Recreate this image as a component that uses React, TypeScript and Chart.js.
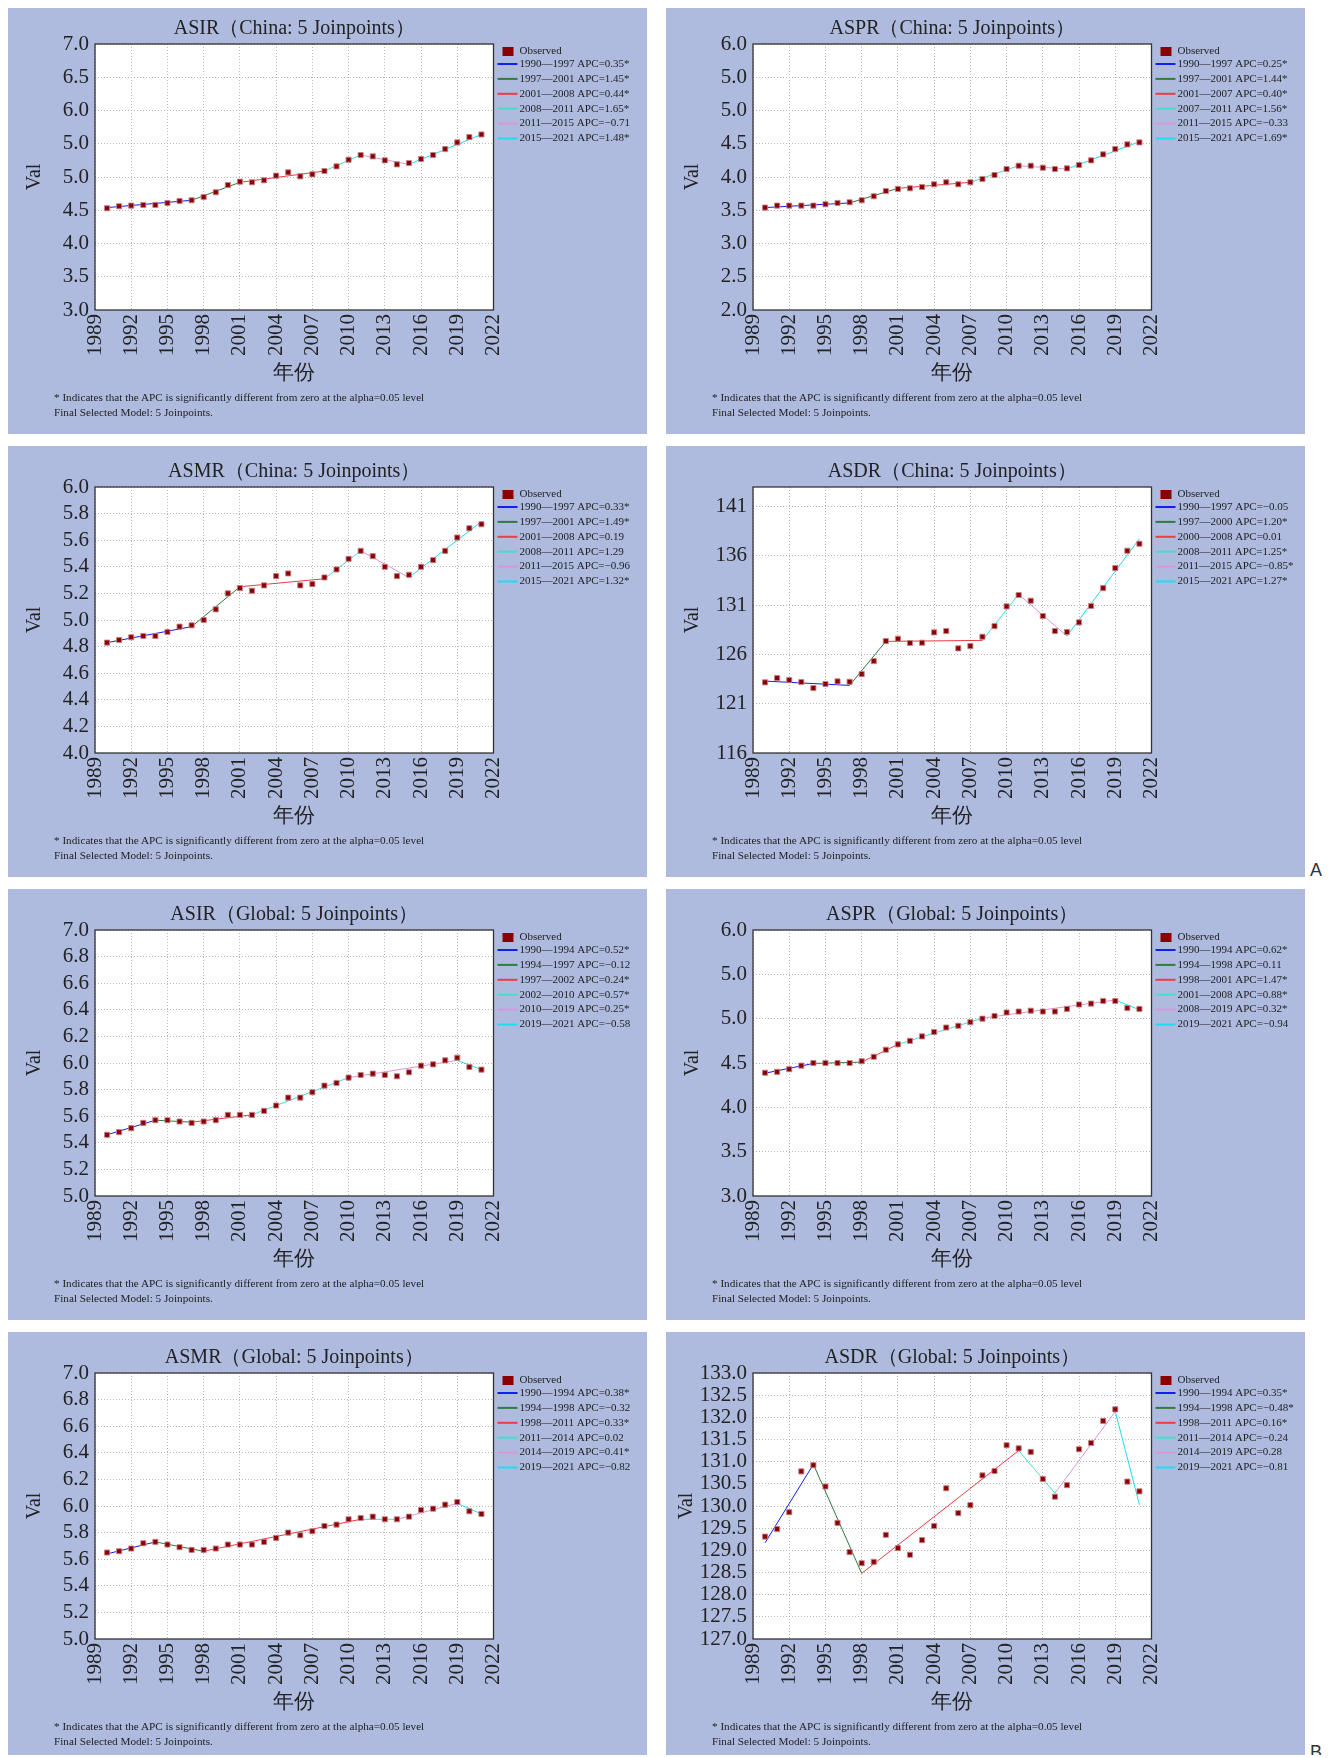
import React, { useEffect, useRef } from 'react';
import { Chart, registerables } from 'chart.js';

Chart.register(...registerables);

// ---------- shared axis data ----------
const YEARS = [
  1990, 1991, 1992, 1993, 1994, 1995, 1996, 1997, 1998, 1999, 2000, 2001, 2002, 2003, 2004, 2005,
  2006, 2007, 2008, 2009, 2010, 2011, 2012, 2013, 2014, 2015, 2016, 2017, 2018, 2019, 2020, 2021,
];
const X_TICKS = [1989, 1992, 1995, 1998, 2001, 2004, 2007, 2010, 2013, 2016, 2019, 2022];

const FOOTNOTE_1 = '* Indicates that the APC is significantly different from zero at the alpha=0.05 level';
const FOOTNOTE_2 = 'Final Selected Model: 5 Joinpoints.';

// ---------- ASIR China ----------
const ASIR_CHINA_OBS = [4.53, 4.56, 4.57, 4.58, 4.58, 4.61, 4.64, 4.65, 4.70, 4.77, 4.88, 4.93, 4.92, 4.95, 5.02, 5.07, 5.01, 5.04, 5.09, 5.16, 5.26, 5.33, 5.31, 5.25, 5.19, 5.21, 5.27, 5.33, 5.42, 5.52, 5.60, 5.64];
const ASIR_CHINA_JOIN_YEARS = [1990, 1997, 2001, 2008, 2011, 2015, 2021];
const ASIR_CHINA_JOIN_FIT = [4.54, 4.65, 4.92, 5.09, 5.33, 5.19, 5.64];
const ASIR_CHINA_APC = ['1990—1997 APC=0.35*', '1997—2001 APC=1.45*', '2001—2008 APC=0.44*', '2008—2011 APC=1.65*', '2011—2015 APC=−0.71', '2015—2021 APC=1.48*'];
const ASIR_CHINA_Y_TICKS = [3.0, 3.5, 4.0, 4.5, 5.0, 5.5, 6.0, 6.5, 7.0];
const ASIR_CHINA_Y_LABELS = ['3.0', '3.5', '4.0', '4.5', '5.0', '5.0', '6.0', '6.5', '7.0'];

// ---------- ASPR China ----------
const ASPR_CHINA_OBS = [3.54, 3.57, 3.57, 3.57, 3.57, 3.59, 3.61, 3.62, 3.65, 3.71, 3.79, 3.82, 3.83, 3.85, 3.89, 3.92, 3.89, 3.92, 3.97, 4.03, 4.12, 4.17, 4.17, 4.14, 4.12, 4.13, 4.18, 4.25, 4.34, 4.42, 4.49, 4.52];
const ASPR_CHINA_JOIN_YEARS = [1990, 1997, 2001, 2007, 2011, 2015, 2021];
const ASPR_CHINA_JOIN_FIT = [3.54, 3.61, 3.83, 3.92, 4.17, 4.12, 4.53];
const ASPR_CHINA_APC = ['1990—1997 APC=0.25*', '1997—2001 APC=1.44*', '2001—2007 APC=0.40*', '2007—2011 APC=1.56*', '2011—2015 APC=−0.33', '2015—2021 APC=1.69*'];
const ASPR_CHINA_Y_TICKS = [2.0, 2.5, 3.0, 3.5, 4.0, 4.5, 5.0, 5.5, 6.0];
const ASPR_CHINA_Y_LABELS = ['2.0', '2.5', '3.0', '3.5', '4.0', '4.5', '5.0', '5.0', '6.0'];

// ---------- ASMR China ----------
const ASMR_CHINA_OBS = [4.83, 4.85, 4.87, 4.88, 4.88, 4.91, 4.95, 4.96, 5.00, 5.08, 5.20, 5.24, 5.22, 5.26, 5.33, 5.35, 5.26, 5.27, 5.32, 5.38, 5.46, 5.52, 5.48, 5.40, 5.33, 5.34, 5.40, 5.45, 5.52, 5.62, 5.69, 5.72];
const ASMR_CHINA_JOIN_YEARS = [1990, 1997, 2001, 2008, 2011, 2015, 2021];
const ASMR_CHINA_JOIN_FIT = [4.83, 4.95, 5.25, 5.31, 5.52, 5.32, 5.74];
const ASMR_CHINA_APC = ['1990—1997 APC=0.33*', '1997—2001 APC=1.49*', '2001—2008 APC=0.19', '2008—2011 APC=1.29', '2011—2015 APC=−0.96', '2015—2021 APC=1.32*'];
const ASMR_CHINA_Y_TICKS = [4.0, 4.2, 4.4, 4.6, 4.8, 5.0, 5.2, 5.4, 5.6, 5.8, 6.0];
const ASMR_CHINA_Y_LABELS = ['4.0', '4.2', '4.4', '4.6', '4.8', '5.0', '5.2', '5.4', '5.6', '5.8', '6.0'];

// ---------- ASDR China ----------
const ASDR_CHINA_OBS = [123.17, 123.61, 123.40, 123.20, 122.59, 123.00, 123.27, 123.23, 124.01, 125.33, 127.36, 127.60, 127.16, 127.19, 128.24, 128.38, 126.62, 126.85, 127.80, 128.88, 130.88, 132.03, 131.46, 129.90, 128.38, 128.28, 129.26, 130.92, 132.74, 134.77, 136.53, 137.24];
const ASDR_CHINA_JOIN_YEARS = [1990, 1997, 2000, 2008, 2011, 2015, 2021];
const ASDR_CHINA_JOIN_FIT = [123.30, 122.86, 127.33, 127.43, 132.10, 127.87, 137.75];
const ASDR_CHINA_APC = ['1990—1997 APC=−0.05', '1997—2000 APC=1.20*', '2000—2008 APC=0.01', '2008—2011 APC=1.25*', '2011—2015 APC=−0.85*', '2015—2021 APC=1.27*'];
const ASDR_CHINA_Y_TICKS = [116, 121, 126, 131, 136, 141];
const ASDR_CHINA_Y_LABELS = ['116', '121', '126', '131', '136', '141'];

// ---------- ASIR Global ----------
const ASIR_GLOBAL_OBS = [5.46, 5.48, 5.51, 5.55, 5.57, 5.57, 5.56, 5.55, 5.56, 5.57, 5.61, 5.61, 5.61, 5.64, 5.68, 5.74, 5.74, 5.78, 5.83, 5.85, 5.89, 5.91, 5.92, 5.91, 5.90, 5.93, 5.98, 5.99, 6.02, 6.04, 5.97, 5.95];
const ASIR_GLOBAL_JOIN_YEARS = [1990, 1994, 1997, 2002, 2010, 2019, 2021];
const ASIR_GLOBAL_JOIN_FIT = [5.46, 5.57, 5.555, 5.61, 5.89, 6.02, 5.95];
const ASIR_GLOBAL_APC = ['1990—1994 APC=0.52*', '1994—1997 APC=−0.12', '1997—2002 APC=0.24*', '2002—2010 APC=0.57*', '2010—2019 APC=0.25*', '2019—2021 APC=−0.58'];
const ASIR_GLOBAL_Y_TICKS = [5.0, 5.2, 5.4, 5.6, 5.8, 6.0, 6.2, 6.4, 6.6, 6.8, 7.0];
const ASIR_GLOBAL_Y_LABELS = ['5.0', '5.2', '5.4', '5.6', '5.8', '6.0', '6.2', '6.4', '6.6', '6.8', '7.0'];

// ---------- ASPR Global ----------
const ASPR_GLOBAL_OBS = [4.39, 4.40, 4.43, 4.47, 4.50, 4.50, 4.50, 4.50, 4.52, 4.57, 4.65, 4.71, 4.75, 4.80, 4.85, 4.90, 4.92, 4.96, 5.00, 5.03, 5.07, 5.08, 5.09, 5.08, 5.08, 5.11, 5.16, 5.17, 5.20, 5.20, 5.12, 5.11];
const ASPR_GLOBAL_JOIN_YEARS = [1990, 1994, 1998, 2001, 2008, 2019, 2021];
const ASPR_GLOBAL_JOIN_FIT = [4.385, 4.495, 4.51, 4.71, 5.006, 5.21, 5.10];
const ASPR_GLOBAL_APC = ['1990—1994 APC=0.62*', '1994—1998 APC=0.11', '1998—2001 APC=1.47*', '2001—2008 APC=0.88*', '2008—2019 APC=0.32*', '2019—2021 APC=−0.94'];
const ASPR_GLOBAL_Y_TICKS = [3.0, 3.5, 4.0, 4.5, 5.0, 5.5, 6.0];
const ASPR_GLOBAL_Y_LABELS = ['3.0', '3.5', '4.0', '4.5', '5.0', '5.0', '6.0'];

// ---------- ASMR Global ----------
const ASMR_GLOBAL_OBS = [5.65, 5.66, 5.68, 5.72, 5.73, 5.71, 5.69, 5.67, 5.67, 5.68, 5.71, 5.71, 5.71, 5.73, 5.76, 5.80, 5.78, 5.81, 5.85, 5.86, 5.90, 5.91, 5.92, 5.90, 5.90, 5.92, 5.97, 5.98, 6.01, 6.03, 5.96, 5.94];
const ASMR_GLOBAL_JOIN_YEARS = [1990, 1994, 1998, 2011, 2014, 2019, 2021];
const ASMR_GLOBAL_JOIN_FIT = [5.64, 5.73, 5.66, 5.90, 5.90, 6.02, 5.94];
const ASMR_GLOBAL_APC = ['1990—1994 APC=0.38*', '1994—1998 APC=−0.32', '1998—2011 APC=0.33*', '2011—2014 APC=0.02', '2014—2019 APC=0.41*', '2019—2021 APC=−0.82'];
const ASMR_GLOBAL_Y_TICKS = [5.0, 5.2, 5.4, 5.6, 5.8, 6.0, 6.2, 6.4, 6.6, 6.8, 7.0];
const ASMR_GLOBAL_Y_LABELS = ['5.0', '5.2', '5.4', '5.6', '5.8', '6.0', '6.2', '6.4', '6.6', '6.8', '7.0'];

// ---------- ASDR Global ----------
const ASDR_GLOBAL_OBS = [129.31, 129.48, 129.86, 130.78, 130.92, 130.44, 129.62, 128.96, 128.71, 128.74, 129.35, 129.05, 128.90, 129.23, 129.55, 130.40, 129.84, 130.02, 130.69, 130.79, 131.37, 131.30, 131.22, 130.61, 130.21, 130.47, 131.28, 131.42, 131.92, 132.18, 130.55, 130.33];
const ASDR_GLOBAL_JOIN_YEARS = [1990, 1994, 1998, 2011, 2014, 2019, 2021];
const ASDR_GLOBAL_JOIN_FIT = [129.17, 130.94, 128.48, 131.25, 130.29, 132.13, 130.03];
const ASDR_GLOBAL_APC = ['1990—1994 APC=0.35*', '1994—1998 APC=−0.48*', '1998—2011 APC=0.16*', '2011—2014 APC=−0.24', '2014—2019 APC=0.28', '2019—2021 APC=−0.81'];
const ASDR_GLOBAL_Y_TICKS = [127.0, 127.5, 128.0, 128.5, 129.0, 129.5, 130.0, 130.5, 131.0, 131.5, 132.0, 132.5, 133.0];
const ASDR_GLOBAL_Y_LABELS = ['127.0', '127.5', '128.0', '128.5', '129.0', '129.5', '130.0', '130.5', '131.0', '131.5', '132.0', '132.5', '133.0'];

// ---------- styling ----------
const PANEL_BG = '#AEBBDF';
const TEXT = '#222222';
const SERIF = "'Liberation Serif', 'Times New Roman', serif";
const OBS_COLOR = '#8B0000';
const SEGMENT_COLORS = ['#1020F0', '#2E7D3C', '#EE3B45', '#48DCCB', '#DA96DA', '#1EDCF0'];

const PANEL_W = 639;
const PANEL_H = 431;
const COL_PITCH = 658;
const ROW_PITCH = 443;

type PanelSpec = {
  title: string;
  obs: number[];
  joinYears: number[];
  joinFit: number[];
  apc: string[];
  yTicks: number[];
  yLabels: string[];
  yMin: number;
  yMax: number;
  valPad: number;
  col: number;
  row: number;
};

const PANELS: PanelSpec[] = [
  { title: 'ASIR（China: 5 Joinpoints）', obs: ASIR_CHINA_OBS, joinYears: ASIR_CHINA_JOIN_YEARS, joinFit: ASIR_CHINA_JOIN_FIT, apc: ASIR_CHINA_APC, yTicks: ASIR_CHINA_Y_TICKS, yLabels: ASIR_CHINA_Y_LABELS, yMin: 3, yMax: 7, valPad: 15, col: 0, row: 0 },
  { title: 'ASPR（China: 5 Joinpoints）', obs: ASPR_CHINA_OBS, joinYears: ASPR_CHINA_JOIN_YEARS, joinFit: ASPR_CHINA_JOIN_FIT, apc: ASPR_CHINA_APC, yTicks: ASPR_CHINA_Y_TICKS, yLabels: ASPR_CHINA_Y_LABELS, yMin: 2, yMax: 6, valPad: 15, col: 1, row: 0 },
  { title: 'ASMR（China: 5 Joinpoints）', obs: ASMR_CHINA_OBS, joinYears: ASMR_CHINA_JOIN_YEARS, joinFit: ASMR_CHINA_JOIN_FIT, apc: ASMR_CHINA_APC, yTicks: ASMR_CHINA_Y_TICKS, yLabels: ASMR_CHINA_Y_LABELS, yMin: 4, yMax: 6, valPad: 15, col: 0, row: 1 },
  { title: 'ASDR（China: 5 Joinpoints）', obs: ASDR_CHINA_OBS, joinYears: ASDR_CHINA_JOIN_YEARS, joinFit: ASDR_CHINA_JOIN_FIT, apc: ASDR_CHINA_APC, yTicks: ASDR_CHINA_Y_TICKS, yLabels: ASDR_CHINA_Y_LABELS, yMin: 116, yMax: 143, valPad: 15, col: 1, row: 1 },
  { title: 'ASIR（Global: 5 Joinpoints）', obs: ASIR_GLOBAL_OBS, joinYears: ASIR_GLOBAL_JOIN_YEARS, joinFit: ASIR_GLOBAL_JOIN_FIT, apc: ASIR_GLOBAL_APC, yTicks: ASIR_GLOBAL_Y_TICKS, yLabels: ASIR_GLOBAL_Y_LABELS, yMin: 5, yMax: 7, valPad: 15, col: 0, row: 2 },
  { title: 'ASPR（Global: 5 Joinpoints）', obs: ASPR_GLOBAL_OBS, joinYears: ASPR_GLOBAL_JOIN_YEARS, joinFit: ASPR_GLOBAL_JOIN_FIT, apc: ASPR_GLOBAL_APC, yTicks: ASPR_GLOBAL_Y_TICKS, yLabels: ASPR_GLOBAL_Y_LABELS, yMin: 3, yMax: 6, valPad: 15, col: 1, row: 2 },
  { title: 'ASMR（Global: 5 Joinpoints）', obs: ASMR_GLOBAL_OBS, joinYears: ASMR_GLOBAL_JOIN_YEARS, joinFit: ASMR_GLOBAL_JOIN_FIT, apc: ASMR_GLOBAL_APC, yTicks: ASMR_GLOBAL_Y_TICKS, yLabels: ASMR_GLOBAL_Y_LABELS, yMin: 5, yMax: 7, valPad: 15, col: 0, row: 3 },
  { title: 'ASDR（Global: 5 Joinpoints）', obs: ASDR_GLOBAL_OBS, joinYears: ASDR_GLOBAL_JOIN_YEARS, joinFit: ASDR_GLOBAL_JOIN_FIT, apc: ASDR_GLOBAL_APC, yTicks: ASDR_GLOBAL_Y_TICKS, yLabels: ASDR_GLOBAL_Y_LABELS, yMin: 127, yMax: 133, valPad: 9, col: 1, row: 3 },
];

// White plotting area under the grid, dark frame on top of the data.
const plotFrame = {
  id: 'plotFrame',
  beforeDraw(chart: any) {
    const { ctx, chartArea: a } = chart;
    ctx.save();
    ctx.fillStyle = '#ffffff';
    ctx.fillRect(a.left, a.top, a.right - a.left, a.bottom - a.top);
    ctx.restore();
  },
  afterDatasetsDraw(chart: any) {
    const { ctx, chartArea: a } = chart;
    ctx.save();
    ctx.strokeStyle = '#333333';
    ctx.lineWidth = 1.3;
    ctx.strokeRect(a.left, a.top, a.right - a.left, a.bottom - a.top);
    ctx.restore();
  },
};

// Legend to the right of the plotting area: observed marker, then one line per segment.
const joinLegend = {
  id: 'joinLegend',
  afterDraw(chart: any) {
    const { ctx, chartArea: a } = chart;
    const x0 = a.right;
    const top = a.top;
    const sets = chart.data.datasets;
    ctx.save();
    ctx.font = `11px ${SERIF}`;
    ctx.textBaseline = 'middle';
    ctx.textAlign = 'left';
    // observed
    ctx.fillStyle = sets[0].pointBackgroundColor;
    ctx.fillRect(x0 + 9, top + 3, 11, 9);
    ctx.fillStyle = TEXT;
    ctx.fillText(sets[0].label, x0 + 26, top + 7.5);
    for (let i = 1; i < sets.length; i++) {
      const y = top + 20 + (i - 1) * 14.9;
      ctx.strokeStyle = sets[i].borderColor;
      ctx.lineWidth = 2;
      ctx.beginPath();
      ctx.moveTo(x0 + 4, y);
      ctx.lineTo(x0 + 24, y);
      ctx.stroke();
      ctx.fillStyle = TEXT;
      ctx.fillText(sets[i].label, x0 + 26, y);
    }
    ctx.restore();
  },
};

function buildConfig(spec: PanelSpec): any {
  const observed = {
    label: 'Observed',
    data: YEARS.map((yr, i) => ({ x: yr, y: spec.obs[i] })),
    showLine: false,
    pointStyle: 'rect',
    pointRadius: 3.6,
    pointBackgroundColor: OBS_COLOR,
    pointBorderColor: 'rgba(196,130,140,0.9)',
    pointBorderWidth: 1,
    order: 0,
  };
  const segments = spec.apc.map((label, i) => ({
    label,
    data: [
      { x: spec.joinYears[i], y: spec.joinFit[i] },
      { x: spec.joinYears[i + 1], y: spec.joinFit[i + 1] },
    ],
    showLine: true,
    borderColor: SEGMENT_COLORS[i],
    backgroundColor: SEGMENT_COLORS[i],
    borderWidth: 1,
    pointRadius: 0,
    order: 1,
  }));

  const tickFont = { family: SERIF, size: 21 };
  return {
    type: 'scatter',
    data: { datasets: [observed, ...segments] },
    options: {
      animation: false,
      responsive: false,
      maintainAspectRatio: false,
      events: [],
      layout: { padding: { left: 0, right: 153.5, top: 0, bottom: 41 } },
      plugins: {
        legend: { display: false },
        tooltip: { enabled: false },
        title: {
          display: true,
          text: spec.title,
          fullSize: false,
          color: TEXT,
          font: { family: SERIF, size: 20, weight: 'normal' },
          padding: { top: 13.6, bottom: 3.4 },
        },
      },
      scales: {
        x: {
          type: 'linear',
          min: 1989,
          max: 2022,
          afterBuildTicks: (s: any) => {
            s.ticks = X_TICKS.map((v) => ({ value: v }));
          },
          afterFit: (s: any) => {
            s.height = 83;
          },
          ticks: {
            autoSkip: false,
            minRotation: 90,
            maxRotation: 90,
            padding: 4,
            color: TEXT,
            font: tickFont,
            callback: (v: any) => String(v),
          },
          grid: { color: '#b8b8b8', lineWidth: 1, drawTicks: false },
          border: { display: false, dash: [1, 2] },
          title: {
            display: true,
            text: '年份',
            color: TEXT,
            font: { family: SERIF, size: 21 },
            padding: { top: 0, bottom: 7.4 },
          },
        },
        y: {
          type: 'linear',
          min: spec.yMin,
          max: spec.yMax,
          afterBuildTicks: (s: any) => {
            s.ticks = spec.yTicks.map((v) => ({ value: v }));
          },
          afterFit: (s: any) => {
            s.width = 87;
          },
          ticks: {
            autoSkip: false,
            padding: 6,
            color: TEXT,
            font: tickFont,
            callback: (_v: any, i: number) => spec.yLabels[i],
          },
          grid: { color: '#b8b8b8', lineWidth: 1, drawTicks: false },
          border: { display: false, dash: [1, 2] },
          title: {
            display: true,
            text: 'Val',
            color: TEXT,
            font: { family: SERIF, size: 20 },
            padding: { top: spec.valPad, bottom: 0 },
          },
        },
      },
    },
    plugins: [plotFrame, joinLegend],
  };
}

function JoinpointPanel({ spec }: { spec: PanelSpec }) {
  const ref = useRef<HTMLCanvasElement | null>(null);
  useEffect(() => {
    if (!ref.current) return;
    const chart = new Chart(ref.current, buildConfig(spec));
    return () => chart.destroy();
  }, [spec]);
  return (
    <div
      style={{
        position: 'absolute',
        left: spec.col * COL_PITCH,
        top: spec.row * ROW_PITCH,
        width: PANEL_W,
        height: PANEL_H,
        background: PANEL_BG,
        overflow: 'hidden',
      }}
    >
      <canvas ref={ref} width={PANEL_W} height={PANEL_H} style={{ display: 'block', width: PANEL_W, height: PANEL_H }} />
      <div
        style={{
          position: 'absolute',
          left: 46,
          top: 386.8,
          fontFamily: SERIF,
          fontSize: '11.2px',
          lineHeight: '15px',
          color: TEXT,
          whiteSpace: 'nowrap',
        }}
      >
        <div>{FOOTNOTE_1}</div>
        <div>{FOOTNOTE_2}</div>
      </div>
    </div>
  );
}

const groupLabel: React.CSSProperties = {
  position: 'absolute',
  left: 1302,
  fontFamily: "'Liberation Sans', Arial, sans-serif",
  fontSize: '18px',
  lineHeight: '18px',
  color: '#333333',
};

export default function App() {
  return (
    <div style={{ position: 'relative', width: 1314, height: 1752, marginTop: -5 }}>
      {PANELS.map((p) => (
        <JoinpointPanel key={p.title} spec={p} />
      ))}
      <div style={{ ...groupLabel, top: 858 }}>A</div>
      <div style={{ ...groupLabel, top: 1740 }}>B</div>
    </div>
  );
}
